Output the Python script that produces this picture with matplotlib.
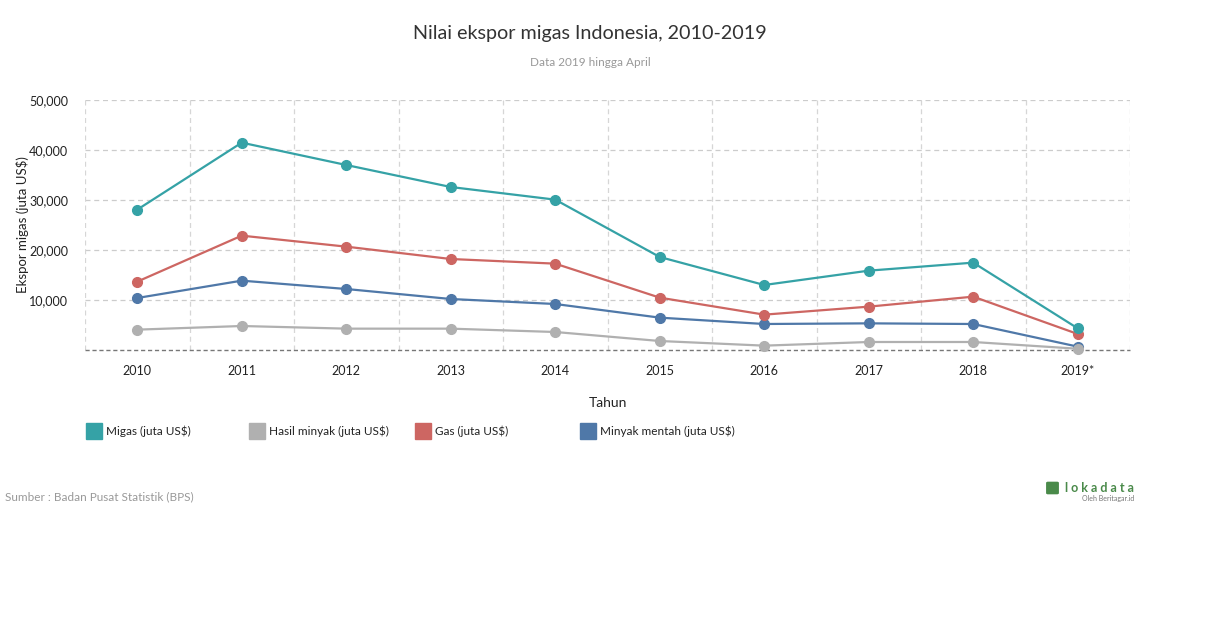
import matplotlib.pyplot as plt
import matplotlib.patches as mpatches
from matplotlib.ticker import FuncFormatter

plt.rcParams['font.family'] = ['Lato', 'DejaVu Sans']

tahun = ['2010', '2011', '2012', '2013', '2014', '2015', '2016', '2017', '2018', '2019*']
migas = [28070, 41470, 37000, 32600, 30070, 18600, 13000, 15870, 17470, 4330]
hasil_minyak = [4070, 4800, 4270, 4270, 3600, 1800, 870, 1600, 1600, 250]
gas = [13670, 22870, 20670, 18200, 17270, 10470, 7070, 8670, 10670, 3200]
minyak_mentah = [10400, 13870, 12200, 10200, 9200, 6470, 5200, 5330, 5200, 670]

series = [
    ('Migas (juta US$)', migas, '#35a2a6'),
    ('Hasil minyak (juta US$)', hasil_minyak, '#b0b0b0'),
    ('Gas (juta US$)', gas, '#cd6662'),
    ('Minyak mentah (juta US$)', minyak_mentah, '#4f78a8'),
]

fig = plt.figure(figsize=(12.1, 6.28), dpi=100)
ax = fig.add_axes([85 / 1210, 1 - 350 / 628, 1045 / 1210, 250 / 628])

x = list(range(len(tahun)))
# draw in reverse so Migas sits on top
for name, vals, col in reversed(series):
    ax.plot(x, vals, color=col, lw=1.6, marker='o', ms=7, zorder=3, clip_on=False)

ax.set_xlim(-0.5, len(tahun) - 0.5)
ax.set_ylim(0, 50000)
ax.set_xticks(x)
ax.set_xticklabels(tahun, fontsize=9, color='#222222')
ax.set_yticks([10000, 20000, 30000, 40000, 50000])
ax.yaxis.set_major_formatter(FuncFormatter(lambda v, p: f'{int(v):,}'))
ax.tick_params(axis='y', labelsize=9, colors='#222222', length=0, pad=12)
ax.tick_params(axis='x', length=0, pad=11)

# grid: horizontal at y ticks, vertical at band edges
for yv in [10000, 20000, 30000, 40000, 50000]:
    ax.axhline(yv, color='#cccccc', lw=0.9, ls=(0, (4, 3)), zorder=1)
for k in range(len(tahun) + 1):
    ax.axvline(k - 0.5, color='#d6d6d6', lw=0.9, ls=(0, (4, 3)), zorder=1)
ax.axhline(0, color='#777777', lw=1, ls=(0, (3, 2)), zorder=2, clip_on=False)

for s in ax.spines.values():
    s.set_visible(False)

ax.set_xlabel('Tahun', fontsize=10, color='#222222', labelpad=14)
ax.set_ylabel('Ekspor migas (juta US$)', fontsize=9.5, color='#222222')
ax.yaxis.set_label_coords(-56 / 1045, 0.5)

fig.text(590 / 1210, 1 - 33 / 628, 'Nilai ekspor migas Indonesia, 2010-2019',
         ha='center', va='center', fontsize=14.2, color='#333333')
fig.text(590 / 1210, 1 - 62 / 628, 'Data 2019 hingga April',
         ha='center', va='center', fontsize=8.5, color='#999999')

# legend
leg_x = [86, 249, 415, 580]
for (name, vals, col), lx in zip(series, leg_x):
    fig.patches.append(mpatches.Rectangle((lx / 1210, 1 - 439 / 628), 16 / 1210, 16 / 628,
                                          transform=fig.transFigure, color=col))
    fig.text((lx + 20) / 1210, 1 - 431 / 628, name, ha='left', va='center',
             fontsize=8.5, color='#222222')

fig.text(5 / 1210, 1 - 497 / 628, 'Sumber : Badan Pusat Statistik (BPS)',
         ha='left', va='center', fontsize=8.5, color='#999999')

fig.text(1134 / 1210, 1 - 488 / 628, 'l o k a d a t a', ha='right', va='center',
         fontsize=9, color='#4a8a4a', fontweight='bold')
fig.text(1134 / 1210, 1 - 499 / 628, 'Oleh Beritagar.id', ha='right', va='center',
         fontsize=5, color='#777777')
fig.patches.append(mpatches.FancyBboxPatch((1048 / 1210, 1 - 493 / 628), 9 / 1210, 10 / 628,
                                           boxstyle='round,pad=0.001', transform=fig.transFigure,
                                           color='#4a8a4a'))

fig.savefig('out.png', dpi=100)
